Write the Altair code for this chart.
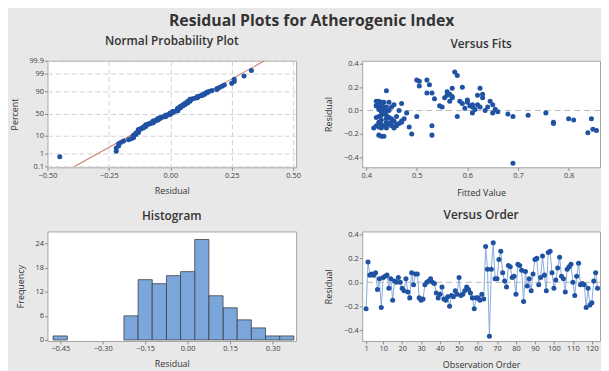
import altair as alt
import pandas as pd
from statistics import NormalDist

# ---------------- data ----------------
main_title = "Residual Plots for Atherogenic Index"
panel_titles = ["Normal Probability Plot", "Versus Fits", "Histogram", "Versus Order"]

residual = [
    -0.22, 0.17, 0.06, 0.07, 0.06, 0.08, -0.06, 0.03, -0.21, 0.04,
    0.05, 0.06, -0.05, 0.03, -0.15, 0.01, 0.00, 0.04, 0.00, -0.05,
    -0.07, 0.03, -0.08, -0.13, 0.08, -0.02, 0.07, 0.07, -0.13, -0.15,
    -0.14, -0.02, 0.00, 0.01, 0.03, 0.00, -0.01, -0.09, -0.13, -0.10,
    -0.04, -0.14, -0.15, -0.12, -0.20, -0.11, -0.12, -0.07, -0.10, 0.04,
    -0.11, -0.10, -0.07, -0.04, -0.06, -0.09, -0.13, -0.22, -0.13, -0.13,
    -0.15, -0.10, -0.14, 0.30, 0.11, -0.45, 0.11, 0.33, 0.03, 0.03,
    0.19, 0.26, 0.08, 0.01, -0.04, 0.14, 0.13, 0.04, 0.05, -0.10,
    0.15, 0.14, 0.10, -0.16, 0.09, -0.03, 0.03, -0.07, 0.07, 0.19,
    0.20, -0.02, 0.04, 0.22, 0.06, -0.07, 0.25, 0.26, 0.08, -0.05,
    0.02, 0.12, 0.21, 0.05, 0.03, -0.08, 0.11, 0.13, 0.15, 0.00,
    -0.11, 0.05, 0.16, -0.02, -0.01, -0.02, -0.21, -0.05, -0.19, -0.17,
    0.01, 0.08, -0.05,
]

fitted = [
    0.43, 0.44, 0.425, 0.435, 0.43, 0.42, 0.445, 0.44, 0.425, 0.43,
    0.455, 0.47, 0.46, 0.425, 0.455, 0.435, 0.445, 0.42, 0.43, 0.425,
    0.44, 0.45, 0.43, 0.42, 0.425, 0.435, 0.445, 0.43, 0.46, 0.44,
    0.43, 0.48, 0.44, 0.425, 0.435, 0.465, 0.43, 0.47, 0.435, 0.45,
    0.44, 0.425, 0.415, 0.46, 0.49, 0.445, 0.43, 0.475, 0.44, 0.42,
    0.465, 0.425, 0.45, 0.43, 0.42, 0.455, 0.53, 0.435, 0.44, 0.45,
    0.43, 0.47, 0.485, 0.58, 0.555, 0.69, 0.57, 0.575, 0.55, 0.61,
    0.625, 0.50, 0.565, 0.615, 0.72, 0.565, 0.62, 0.545, 0.61, 0.77,
    0.52, 0.63, 0.535, 0.848, 0.60, 0.68, 0.625, 0.845, 0.60, 0.57,
    0.59, 0.61, 0.605, 0.525, 0.59, 0.80, 0.505, 0.52, 0.585, 0.69,
    0.595, 0.57, 0.505, 0.62, 0.64, 0.81, 0.63, 0.56, 0.53, 0.635,
    0.77, 0.65, 0.56, 0.755, 0.66, 0.65, 0.53, 0.58, 0.838, 0.855,
    0.655, 0.645, 0.50,
]

observation = list(range(1, len(residual) + 1))

percent_ticks = [0.1, 1, 10, 50, 90, 99, 99.9]
np_x_ticks = [-0.50, -0.25, 0.00, 0.25, 0.50]
fit_x_ticks = [0.4, 0.5, 0.6, 0.7, 0.8]
res_ticks = [-0.4, -0.2, 0.0, 0.2, 0.4]
hist_x_ticks = [-0.45, -0.30, -0.15, 0.00, 0.15, 0.30]
hist_y_ticks = [0, 6, 12, 18, 24]
order_ticks = [1, 10, 20, 30, 40, 50, 60, 70, 80, 90, 100, 110, 120]

df = pd.DataFrame({"obs": observation, "fitted": fitted, "residual": residual})

# ---------------- style ----------------
FONT = "Open Sans"
BLUE = "#1f52a3"
BG = "#e8e8e8"
TXT = "#333333"

# probability axis: positions of the percent ticks on the normal-score scale
z_ticks = [NormalDist().inv_cdf(p / 100) for p in percent_ticks]
label_expr = ""
for i, p in enumerate(percent_ticks[:-1]):
    mid = (z_ticks[i] + z_ticks[i + 1]) / 2
    label_expr += f"datum.value < {mid:.4f} ? '{p:g}' : "
label_expr += f"'{percent_ticks[-1]:g}'"


def axis(values, fmt=None, title="", grid=False, xaxis=True, title_pos=None, **kw):
    d = dict(values=values, tickCount=len(values) + 5, title=title, grid=grid, domain=False,
             labelFontSize=7.5, labelColor="#404040", labelFont=FONT,
             titleFontSize=9, titleColor=TXT, titleFont=FONT, titleFontWeight="normal",
             tickColor="#8c8c8c", tickSize=3, labelPadding=1, labelOverlap=False,
             labelFlush=False,
             gridColor="#d2d2d2", gridDash=[5, 3], gridWidth=1,
             titleBaseline="middle")
    if fmt:
        d["format"] = fmt
    if xaxis:
        d["titleY"] = title_pos
    else:
        d["titleX"] = title_pos
    d.update(kw)
    return alt.Axis(**d)


def ptitle(text):
    return alt.TitleParams(text, fontSize=12, fontWeight=600, font=FONT, color=TXT,
                           anchor="middle", offset=9)


base = alt.Chart(df)
PT = 26

# ---- Normal probability plot ----
np_x = alt.Scale(domain=[-0.5, 0.512], nice=False, zero=False)
np_y = alt.Scale(domain=[-3.15, 3.1], nice=False, zero=False)
np_xaxis = axis(np_x_ticks, ".2f", "Residual", True, True, 24)
np_yaxis = axis(z_ticks, None, "Percent", True, False, -33, labelExpr=label_expr)

np_line = (
    base.transform_aggregate(m="mean(residual)", s="stdev(residual)")
    .transform_calculate(xa="datum.m - 3.1*datum.s", xb="datum.m + 3.1*datum.s",
                         ya="-3.1", yb="3.1")
    .mark_rule(color="#cc7a6c", strokeWidth=1.1, clip=True)
    .encode(
        x=alt.X("xa:Q", scale=np_x, axis=np_xaxis),
        x2="xb:Q",
        y=alt.Y("ya:Q", scale=np_y, axis=np_yaxis),
        y2="yb:Q",
    )
)
np_pts = (
    base.transform_window(rank="row_number()", sort=[alt.SortField("residual", order="ascending")])
    .transform_joinaggregate(n="count()")
    .transform_calculate(z="quantileNormal((datum.rank - 0.3) / (datum.n + 0.4))")
    .mark_circle(size=PT, color=BLUE, opacity=1)
    .encode(x=alt.X("residual:Q", scale=np_x, axis=np_xaxis),
            y=alt.Y("z:Q", scale=np_y, axis=np_yaxis))
)
np_chart = alt.layer(np_line, np_pts).properties(width=252, height=108, title=ptitle(panel_titles[0]))

# ---- Versus fits ----
res_scale_top = alt.Scale(domain=[-0.485, 0.4255], nice=False, zero=False)
fit_xaxis = axis(fit_x_ticks, ".1f", "Fitted Value", False, True, 26)
fit_yaxis = axis(res_ticks, ".1f", "Residual", False, False, -34)
zero_rule = (
    base.transform_aggregate(c="count()")
    .mark_rule(color="#b8b8b8", strokeDash=[6, 4], strokeWidth=1)
    .encode(y=alt.datum(0))
)
fits_pts = base.mark_circle(size=PT, color=BLUE, opacity=1).encode(
    x=alt.X("fitted:Q", scale=alt.Scale(domain=[0.3922, 0.862], nice=False, zero=False),
            axis=fit_xaxis),
    y=alt.Y("residual:Q", scale=res_scale_top, axis=fit_yaxis),
)
fits_chart = alt.layer(zero_rule, fits_pts).properties(width=241, height=108, title=ptitle(panel_titles[1]))

# ---- Histogram ----
hist = (
    base.transform_calculate(bc="round(datum.residual / 0.05) * 0.05")
    .transform_aggregate(freq="count()", groupby=["bc"])
    .transform_calculate(b0="datum.bc - 0.025", b1="datum.bc + 0.025")
    .mark_rect(fill="#7ba6dc", stroke="#3f3f3f", strokeWidth=0.8)
    .encode(
        x=alt.X("b0:Q", scale=alt.Scale(domain=[-0.495, 0.383], nice=False, zero=False),
                axis=axis(hist_x_ticks, ".2f", "Residual", False, True, 23)),
        x2="b1:Q",
        y=alt.Y("freq:Q", scale=alt.Scale(domain=[-0.25, 27], nice=False, zero=False),
                axis=axis(hist_y_ticks, "d", "Frequency", False, False, -27)),
        y2=alt.datum(0),
    )
    .properties(width=252, height=111, title=ptitle(panel_titles[2]))
)

# ---- Versus order ----
order_x = alt.Scale(domain=[-1.05, 124.3], nice=False, zero=False)
order_y = alt.Scale(domain=[-0.49, 0.425], nice=False, zero=False)
ord_xaxis = axis(order_ticks, "d", "Observation Order", False, True, 24)
ord_yaxis = axis(res_ticks, ".1f", "Residual", False, False, -34)
order_line = base.mark_line(color="#86aadb", strokeWidth=1).encode(
    x=alt.X("obs:Q", scale=order_x, axis=ord_xaxis),
    y=alt.Y("residual:Q", scale=order_y, axis=ord_yaxis),
)
order_pts = base.mark_circle(size=PT, color=BLUE, opacity=1).encode(
    x=alt.X("obs:Q", scale=order_x, axis=ord_xaxis),
    y=alt.Y("residual:Q", scale=order_y, axis=ord_yaxis),
)
order_chart = alt.layer(zero_rule, order_line, order_pts).properties(
    width=241, height=111, title=ptitle(panel_titles[3]))

chart = (
    alt.concat(np_chart, fits_chart, hist, order_chart, columns=2,
               spacing={"row": 65, "column": 67}, bounds="flush")
    .properties(
        title=alt.TitleParams(main_title, fontSize=16, fontWeight="bold", font=FONT,
                              color=TXT, anchor="middle", offset=6, dx=6),
        padding={"left": 2, "top": 2, "right": 0, "bottom": 0},
        background=BG,
    )
    .configure_view(stroke="#a3a3a3", strokeWidth=1, fill="white")
)

chart.save("out.html", embed_options={"renderer": "svg", "actions": False})
